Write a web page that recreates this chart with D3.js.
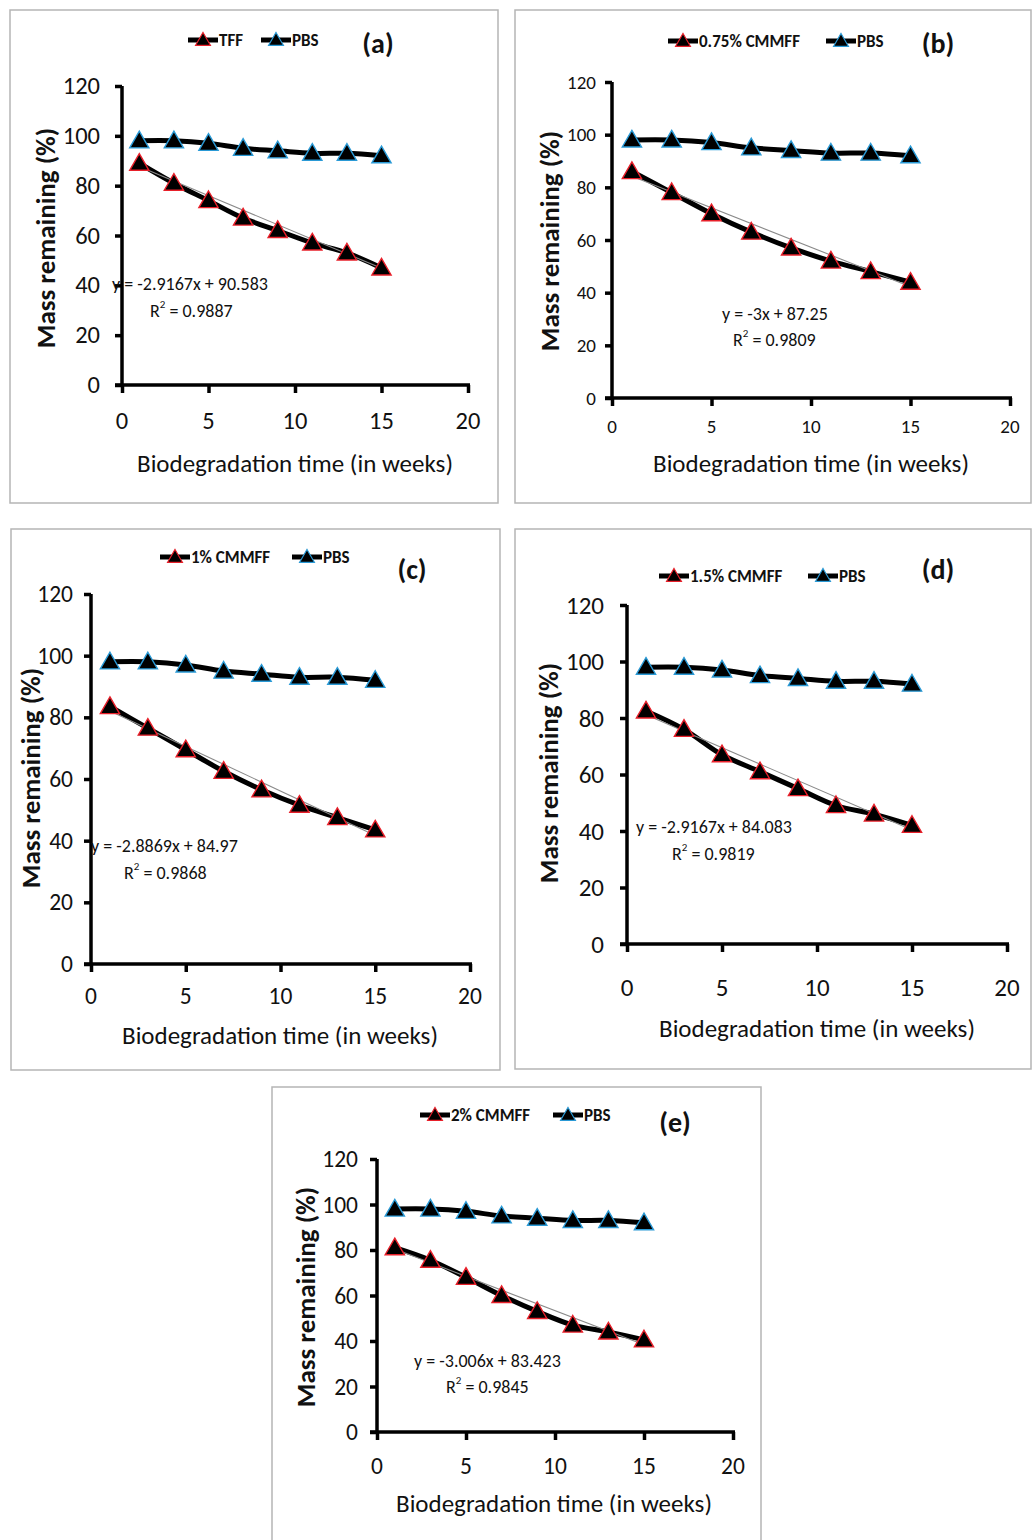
<!DOCTYPE html>
<html><head><meta charset="utf-8">
<script src="https://cdn.jsdelivr.net/npm/d3@7"></script>
<style>
html,body{margin:0;padding:0;background:#fff;}
svg{display:block;}
text{font-family:Carlito, Lato, "Open Sans", sans-serif;fill:#111;}
</style></head>
<body>
<svg id="chart" width="1032" height="1540"></svg>
<script>
// ---------- DATA ----------
const weeks = [1, 3, 5, 7, 9, 11, 13, 15];
const pbsMass = [98, 98, 97, 95, 94, 93, 93, 92];
const tffMass = [89, 81, 74, 67, 62, 57, 53, 47];
const cmmff075Mass = [86, 78, 70, 63, 57, 52, 48, 44];
const cmmff1Mass = [83.5, 76.5, 69.5, 62.5, 56.5, 51.5, 47.5, 43.5];
const cmmff15Mass = [82.5, 76, 67, 61, 55, 49, 46, 42];
const cmmff2Mass = [81, 75.5, 68, 60, 53, 47, 44, 40.5];
const seriesNames = ["TFF", "0.75% CMMFF", "1% CMMFF", "1.5% CMMFF", "2% CMMFF"];
const controlName = "PBS";
const panelLabels = ["(a)", "(b)", "(c)", "(d)", "(e)"];
const trendSlopes = [-2.9167, -3, -2.8869, -2.9167, -3.006];
const trendIntercepts = [90.583, 87.25, 84.97, 84.083, 83.423];
const trendR2 = ["0.9887", "0.9809", "0.9868", "0.9819", "0.9845"];
const xTicks = [0, 5, 10, 15, 20];
const yTicks = [0, 20, 40, 60, 80, 100, 120];
const xTitle = "Biodegradation time (in weeks)";
const yTitle = "Mass remaining (%)";
const treatmentSeries = [tffMass, cmmff075Mass, cmmff1Mass, cmmff15Mass, cmmff2Mass];

// ---------- LAYOUT ----------
const layouts = [
  {box:[10,10,488,493], x0:122, x1:468, yb:385, yt:86, tf:24.5, ylr:100, xly:421, ly:40, s1:188, s2:261, lx:378, lyy:43, ytx:45, yty:238, xtx:295, xty:463, ex:112, ey:284, rx:150, ry:311},
  {box:[515,10,516,493], x0:612, x1:1010, yb:398, yt:82, tf:19, ylr:596, xly:426, ly:41, s1:668, s2:826, lx:938, lyy:43, ytx:549, yty:241, xtx:811, xty:463, ex:722, ey:314, rx:733, ry:340},
  {box:[11,529,489,541], x0:91, x1:470, yb:964, yt:594, tf:23.5, ylr:73, xly:996, ly:557, s1:160, s2:292, lx:412, lyy:569, ytx:30, yty:778, xtx:280, xty:1035, ex:91, ey:846, rx:124, ry:873},
  {box:[515,529,516,540], x0:627, x1:1007, yb:944, yt:605, tf:25, ylr:604, xly:987, ly:576, s1:659, s2:808, lx:938, lyy:569, ytx:548, yty:773, xtx:817, xty:1028, ex:636, ey:827, rx:672, ry:854},
  {box:[272,1087,489,460], x0:377, x1:733, yb:1432, yt:1159, tf:23.5, ylr:358, xly:1466, ly:1115, s1:420, s2:553, lx:675, lyy:1122, ytx:305, yty:1297, xtx:554, xty:1503, ex:414, ey:1361, rx:446, ry:1387}
];

const svg = d3.select("#chart");
const RED = "#e8202a", BLUE = "#2a9ad6";
const tri = d3.symbol().type(d3.symbolTriangle);

layouts.forEach((L, i) => {
  const g = svg.append("g");
  g.append("rect").attr("x", L.box[0]).attr("y", L.box[1]).attr("width", L.box[2]).attr("height", L.box[3])
    .attr("fill", "none").attr("stroke", "#b5b5b5").attr("stroke-width", 1.5);

  const x = d3.scaleLinear().domain([0, 20]).range([L.x0, L.x1]);
  const y = d3.scaleLinear().domain([0, 120]).range([L.yb, L.yt]);

  const yAxis = g.append("g").attr("transform", `translate(${L.x0},0)`)
    .call(d3.axisLeft(y).tickValues(yTicks).tickSize(7).tickSizeOuter(0).tickFormat(""));
  const xAxis = g.append("g").attr("transform", `translate(0,${L.yb})`)
    .call(d3.axisBottom(x).tickValues(xTicks).tickSize(8).tickSizeOuter(0).tickFormat(""));
  [yAxis, xAxis].forEach(a => {
    a.selectAll("path,line").attr("stroke", "#000").attr("stroke-width", 3.5);
  });
  xAxis.select(".domain").attr("d", `M${L.x0 - 7},0H${L.x1 + 2}`);
  yAxis.select(".domain").attr("d", `M0,${L.yt}V${L.yb + 2}`);

  g.selectAll(".yl").data(yTicks).join("text")
    .attr("x", L.ylr).attr("y", d => y(d)).attr("text-anchor", "end").attr("dominant-baseline", "central")
    .style("font-size", L.tf + "px").style("font-weight", 500).text(d => d);
  g.selectAll(".xl").data(xTicks).join("text")
    .attr("x", d => x(d)).attr("y", L.xly).attr("text-anchor", "middle").attr("dominant-baseline", "central")
    .style("font-size", L.tf + "px").style("font-weight", 500).text(d => d);

  g.append("text").attr("transform", `translate(${L.ytx},${L.yty}) rotate(-90)`)
    .attr("text-anchor", "middle").attr("dominant-baseline", "central")
    .style("font-size", "27px").style("font-weight", 700).text(yTitle);
  g.append("text").attr("x", L.xtx).attr("y", L.xty).attr("text-anchor", "middle").attr("dominant-baseline", "central")
    .style("font-size", "25px").style("font-weight", 500).text(xTitle);

  const line = d3.line().x((d, j) => x(weeks[j])).y(d => y(d)).curve(d3.curveCatmullRom.alpha(0.5));
  const treat = treatmentSeries[i];
  [pbsMass, treat].forEach(s => {
    g.append("path").datum(s).attr("d", line).attr("fill", "none")
      .attr("stroke", "#000").attr("stroke-width", 5).attr("stroke-linejoin", "round");
  });
  const tl = d3.line().x(d => x(d)).y(d => y(trendSlopes[i] * d + trendIntercepts[i]));
  g.append("path").datum([weeks[0], weeks[weeks.length - 1]]).attr("d", tl)
    .attr("fill", "none").attr("stroke", "#8a8a8a").attr("stroke-width", 1.1);

  [[pbsMass, BLUE], [treat, RED]].forEach(([s, c]) => {
    g.selectAll(null).data(s).join("path")
      .attr("d", tri.size(160)())
      .attr("transform", (d, j) => `translate(${x(weeks[j])},${y(d) + 1.5})`)
      .attr("fill", "#000").attr("stroke", c).attr("stroke-width", 1.4);
  });

  g.append("text").attr("x", L.ex).attr("y", L.ey).attr("dominant-baseline", "central")
    .style("font-size", "18px").style("font-weight", 500)
    .text(`y = ${trendSlopes[i]}x + ${trendIntercepts[i]}`);
  const rt = g.append("text").attr("x", L.rx).attr("y", L.ry).attr("dominant-baseline", "central")
    .style("font-size", "18px").style("font-weight", 500);
  rt.append("tspan").text("R");
  rt.append("tspan").attr("dy", -7).style("font-size", "11px").text("2");
  rt.append("tspan").attr("dy", 7).text(" = " + trendR2[i]);

  [[L.s1, seriesNames[i], RED], [L.s2, controlName, BLUE]].forEach(([sx, name, c]) => {
    g.append("line").attr("x1", sx).attr("x2", sx + 30).attr("y1", L.ly).attr("y2", L.ly)
      .attr("stroke", "#000").attr("stroke-width", 5);
    g.append("path").attr("d", tri.size(95)()).attr("transform", `translate(${sx + 15},${L.ly + 1})`)
      .attr("fill", "#000").attr("stroke", c).attr("stroke-width", 1.2);
    g.append("text").attr("x", sx + 31).attr("y", L.ly).attr("dominant-baseline", "central")
      .style("font-size", "17px").style("font-weight", 700).text(name);
  });

  g.append("text").attr("x", L.lx).attr("y", L.lyy).attr("text-anchor", "middle").attr("dominant-baseline", "central")
    .style("font-size", "28px").style("font-weight", 700).text(panelLabels[i]);
});
</script>
</body></html>
